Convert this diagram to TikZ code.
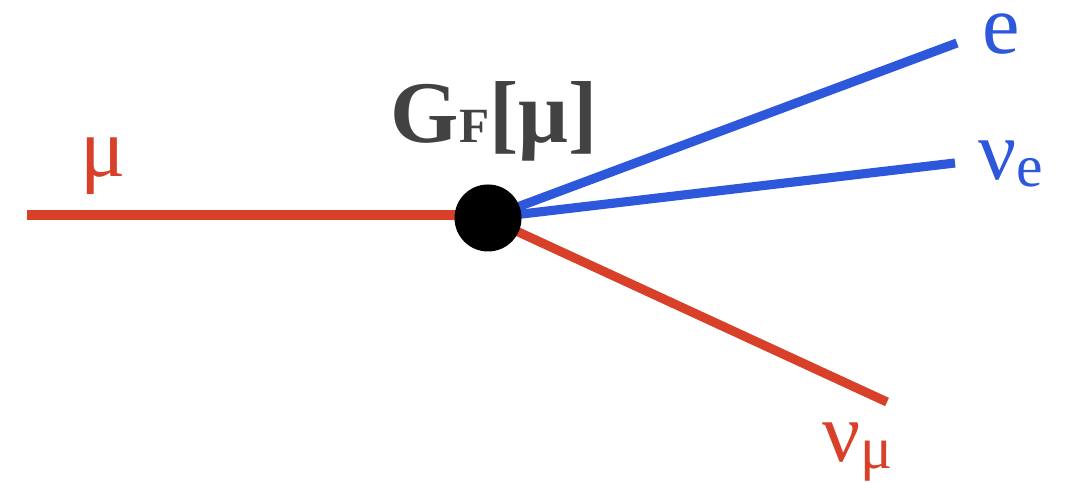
\documentclass[tikz,border=0pt]{standalone}
\usepackage{fontspec}
\setmainfont{Liberation Serif}
\definecolor{lred}{RGB}{216,64,42}
\definecolor{lblue}{RGB}{46,88,219}
\definecolor{lgray}{RGB}{66,66,66}
\tikzset{
  redline/.style={draw=lred, line width=2.6pt},
  blueline/.style={draw=lblue, line width=2.6pt},
  vertex/.style={circle, fill=black, minimum size=0.67cm, inner sep=0pt},
  redlab/.style={text=lred, font=\fontsize{24}{24}\selectfont, inner sep=0pt},
  bluelab/.style={text=lblue, font=\fontsize{24}{24}\selectfont, inner sep=0pt},
  couplab/.style={text=lgray, font=\bfseries\fontsize{25}{25}\selectfont, inner sep=0pt},
}
\newcommand{\subtxt}[1]{\raisebox{-0.07cm}{\fontsize{17}{17}\selectfont #1}}
\begin{document}
\begin{tikzpicture}
\useasboundingbox (0,0) rectangle (10.74,4.83);
\coordinate (vc) at (4.88,2.65);
\coordinate (mu0) at (0.27,2.68);
\coordinate (eE) at (9.57,4.40);
\coordinate (nuE) at (9.55,3.20);
\coordinate (nuMu) at (8.87,0.81);
\draw[redline] (mu0) -- (mu0 -| vc);
\draw[blueline] (vc) -- (eE);
\draw[blueline] (vc) -- (nuE);
\draw[redline] (vc) -- (nuMu);
\node[vertex] (v) at (vc) {};
\node[redlab, anchor=base] (lmu) at (1.03,3.06) {μ};
\node[bluelab, anchor=base] (le) at (10.01,4.29) {e};
\node[bluelab, anchor=base west] (lnue) at (9.78,3.03) {ν\subtxt{e}};
\node[redlab, anchor=base west] (lnumu) at (8.22,0.21) {ν\subtxt{μ}};
\node[couplab, anchor=base west] (gf) at (3.90,3.40) {G{\fontsize{14}{14}\selectfont F}[μ]};
\end{tikzpicture}
\end{document}
